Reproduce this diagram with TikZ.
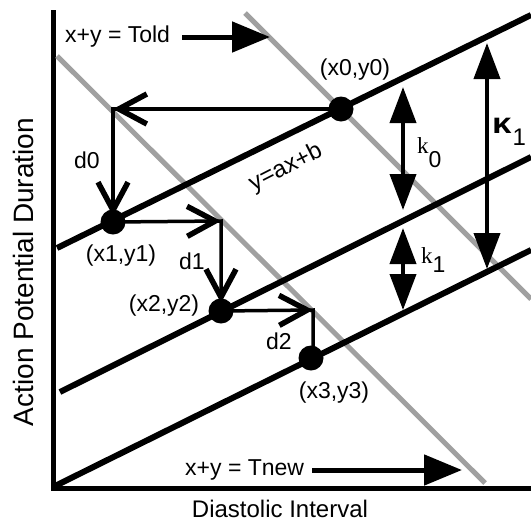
\documentclass[tikz,border=0pt]{standalone}
\usepackage{fontspec}
\setmainfont{Liberation Sans}
\newfontfamily\serifk{Liberation Serif}
\usetikzlibrary{arrows.meta,calc}
\definecolor{refgray}{RGB}{160,160,160}
\begin{document}
\begin{tikzpicture}[x=1pt,y=-1pt,
  axis/.style={line width=5pt, line join=miter},
  refline/.style={line width=5pt, draw=refgray},
  trend/.style={line width=6pt},
  plainstep/.style={line width=3.5pt},
  barbtip/.style={line width=5.5pt, -{Straight Barb[length=28pt,width=30pt]}},
  dbl/.style={line width=4pt, {Triangle[length=36pt,width=26pt]}-{Triangle[length=36pt,width=26pt]}},
  lblarrow/.style={line width=5pt, -{Triangle[length=38pt,width=30pt]}},
  blob/.style={circle, fill=black, inner sep=0pt, minimum size=25pt},
  lbl/.style={font=\fontsize{23}{27}\selectfont, inner sep=0pt}
]
\useasboundingbox (0,0) rectangle (531,523);

% axes
\coordinate (ytop) at (53,10);
\coordinate (orig) at (53,488);
\coordinate (xend) at (531,488);
\draw[axis] (ytop) -- (orig) -- (xend);

% reference lines x+y = T
\coordinate (g1a) at (57,56);
\coordinate (g1b) at (485,483);
\coordinate (g2a) at (245,13);
\coordinate (g2b) at (531,299);
\draw[refline] (g1a) -- (g1b);
\draw[refline] (g2a) -- (g2b);

% trend lines y = ax + b
\coordinate (l1a) at (57,248);
\coordinate (l1b) at (531,15);
\coordinate (l2a) at (60,392);
\coordinate (l2b) at (531,157);
\coordinate (l3a) at (55,486);
\coordinate (l3b) at (531,250);
\draw[trend] (l1a) -- (l1b);
\draw[trend] (l2a) -- (l2b);
\draw[trend] (l3a) -- (l3b);

% points
\coordinate (P0) at (341,109);
\coordinate (P1) at (113,222);
\coordinate (P2) at (221,311);
\coordinate (P3) at (311,358);
\coordinate (C0) at (113,109);
\coordinate (C1) at (221,221);
\coordinate (C2) at (313,310);
\coordinate (P1t) at (113,216);
\coordinate (P2t) at (221,303);

% steps: stems
\draw[plainstep] (P0) -- (C0) -- (P1t);
\draw[plainstep] (P1) -- (C1) -- (P2t);
\draw[plainstep] (P2) -- (C2) -- (C2 |- P3);
% steps: arrowheads
\draw[barbtip] ($(C0)!8pt!(P0)$) -- (C0);
\draw[barbtip] ($(P1t)!8pt!(C0)$) -- (P1t);
\draw[barbtip] ($(C1)!8pt!(P1)$) -- (C1);
\draw[barbtip] ($(P2t)!8pt!(C1)$) -- (P2t);
\draw[barbtip] ($(C2)!8pt!(P2)$) -- (C2);

\node[blob] (p0) at (P0) {};
\node[blob] (p1) at (P1) {};
\node[blob] (p2) at (P2) {};
\node[blob] (p3) at (P3) {};

% double arrows
\coordinate (k0t) at (403,87);
\coordinate (k0b) at (403,210);
\coordinate (k1t) at (403,228);
\coordinate (k1b) at (403,310);
\coordinate (K1t) at (487,43);
\coordinate (K1b) at (487,269);
\draw[dbl] (k0t) -- (k0b);
\draw[dbl] (k1t) -- (k1b);
\draw[dbl] (K1t) -- (K1b);

% labels
\node[lbl] (l0) at (355,70) {(x0,y0)};
\node[lbl] (l1) at (121,256) {(x1,y1)};
\node[lbl] (l2) at (164,306) {(x2,y2)};
\node[lbl] (l3) at (334,393) {(x3,y3)};
\node[lbl] (d0) at (87,160) {d0};
\node[lbl] (d1) at (192,261) {d1};
\node[lbl] (d2) at (279,341) {d2};
\node[font=\fontsize{24}{28}\selectfont, inner sep=0pt, rotate=27] (fit) at (286,168) {y=ax+b};

\node[font=\fontsize{23}{27}\selectfont, inner sep=0pt, anchor=base west] (k0lab) at (417,153) {{\serifk\fontsize{23}{24}\selectfont k}\raisebox{-14pt}{0}};
\node[font=\fontsize{23}{27}\selectfont, inner sep=0pt, anchor=base west] (k1lab) at (421,263) {{\serifk\fontsize{23}{24}\selectfont k}\raisebox{-9pt}{1}};
\node[font=\fontsize{24}{27}\selectfont, inner sep=0pt, anchor=base west] (K1lab) at (492,133) {\scalebox{1.2}[1]{\bfseries\fontsize{29}{30}\selectfont κ}\hspace{1pt}\raisebox{-12pt}{1}};

% T labels with arrows
\node[lbl, anchor=west] (told) at (65,37) {x+y = Told};
\coordinate (toldtip) at (270,37);
\draw[lblarrow] ([xshift=12pt]told.east) -- (toldtip);
\node[lbl, anchor=west] (tnew) at (185,470) {x+y = Tnew};
\coordinate (tnewtip) at (462,470);
\draw[lblarrow] ([xshift=8pt]tnew.east) -- (tnewtip);

% axis titles
\node[font=\fontsize{24}{28}\selectfont, inner sep=0pt] (xlab) at (280,509) {Diastolic Interval};
\node[font=\fontsize{28}{32}\selectfont, inner sep=0pt, rotate=90] (ylab) at (23,272) {Action Potential Duration};
\end{tikzpicture}
\end{document}
